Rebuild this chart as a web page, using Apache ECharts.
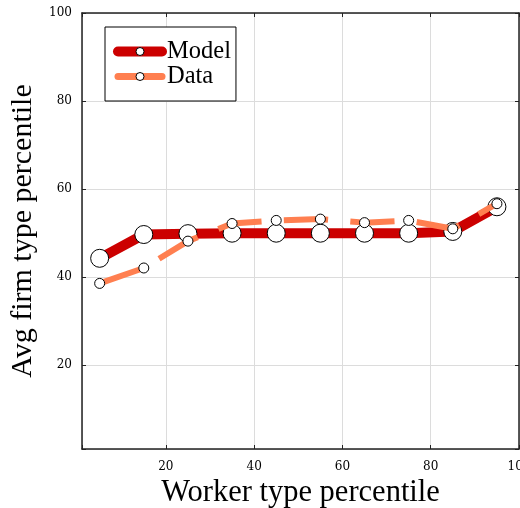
<!DOCTYPE html>
<html>
<head>
<meta charset="utf-8">
<script src="https://cdn.jsdelivr.net/npm/echarts@6/dist/echarts.min.js"></script>
<style>html,body{margin:0;padding:0;background:#fff}#c{width:520px;height:508px}</style>
</head>
<body>
<div id="c"></div>
<script>
const workerPct = [5, 15, 25, 35, 45, 55, 65, 75, 85, 95];
const modelVals = [44.3, 49.7, 49.9, 50.0, 50.0, 50.0, 50.0, 50.0, 50.4, 56.0];
const dataVals  = [38.6, 42.1, 48.2, 52.2, 52.9, 53.2, 52.4, 52.9, 51.0, 56.7];
const xTicks = [20, 40, 60, 80, 100];
const yTicks = [20, 40, 60, 80, 100];

const serif = 'Liberation Serif';
const tickFont = 'DejaVu Serif';
const axisColor = '#222';

const chart = echarts.init(document.getElementById('c'), null, {renderer: 'canvas'});
const pair = (xs, ys) => xs.map((x, i) => [x, ys[i]]);

chart.setOption({
  animation: false,
  backgroundColor: '#fff',
  grid: {left: 82, right: 1, top: 13, bottom: 59, containLabel: false, outerBoundsMode: 'none'},
  legend: {
    left: 105, top: 27, orient: 'vertical',
    backgroundColor: '#fff', borderColor: '#000', borderWidth: 1, borderRadius: 0,
    padding: [12, 5, 12, 8],
    itemWidth: 44, itemHeight: 10, itemGap: 0, itemTextGap: 8,
    textStyle: {fontFamily: serif, fontSize: 24.5, color: '#000'},
    data: [
      {name: 'Model', lineStyle: {width: 10, type: 'solid', cap: 'round'}, itemStyle: {color: '#fff', borderColor: '#000', borderWidth: 1}},
      {name: 'Data', lineStyle: {width: 7, type: 'solid', cap: 'round'}, itemStyle: {color: '#fff', borderColor: '#000', borderWidth: 1}}
    ]
  },
  xAxis: [{
    type: 'value', min: 1, max: 100, position: 'bottom',
    name: 'Worker type percentile', nameLocation: 'middle', nameGap: 28,
    nameTextStyle: {fontFamily: serif, fontSize: 30.5, color: '#000'},
    axisLine: {show: true, onZero: false, lineStyle: {color: axisColor, width: 1.5}},
    axisTick: {show: true, inside: true, length: 4, lineStyle: {color: axisColor}},
    axisLabel: {show: true, customValues: xTicks, margin: 12, fontFamily: tickFont, fontSize: 12, color: '#000'},
    splitLine: {show: true, lineStyle: {color: '#dcdcdc', width: 1}}
  }, {
    type: 'value', min: 1, max: 100, position: 'top',
    axisLine: {show: true, onZero: false, lineStyle: {color: axisColor, width: 1.5}},
    axisTick: {show: true, inside: true, length: 4, lineStyle: {color: axisColor}},
    axisLabel: {show: false},
    splitLine: {show: false}
  }],
  yAxis: [{
    type: 'value', min: 1, max: 100, position: 'left',
    name: 'Avg firm type percentile', nameLocation: 'middle', nameGap: 40,
    nameTextStyle: {fontFamily: serif, fontSize: 30, color: '#000'},
    axisLine: {show: true, onZero: false, lineStyle: {color: axisColor, width: 1.5}},
    axisTick: {show: true, inside: true, length: 4, lineStyle: {color: axisColor}},
    axisLabel: {show: true, customValues: yTicks, margin: 10, fontFamily: tickFont, fontSize: 12, color: '#000'},
    splitLine: {show: true, lineStyle: {color: '#dcdcdc', width: 1}}
  }, {
    type: 'value', min: 1, max: 100, position: 'right',
    axisLine: {show: true, onZero: false, lineStyle: {color: axisColor, width: 1.5}},
    axisTick: {show: true, inside: true, length: 4, lineStyle: {color: axisColor}},
    axisLabel: {show: false},
    splitLine: {show: false}
  }],
  series: [{
    name: 'Model', type: 'line', xAxisIndex: 0, yAxisIndex: 0,
    data: pair(workerPct, modelVals),
    lineStyle: {color: '#cc0000', width: 10},
    itemStyle: {color: '#fff', borderColor: '#000', borderWidth: 1},
    color: '#cc0000',
    symbol: 'circle', symbolSize: 18, z: 2
  }, {
    name: 'Data', type: 'line', xAxisIndex: 0, yAxisIndex: 0,
    data: pair(workerPct, dataVals),
    lineStyle: {color: '#ff7f50', width: 6, type: [44.3, 22.3], dashOffset: 2, cap: 'butt'},
    itemStyle: {color: '#fff', borderColor: '#000', borderWidth: 1},
    color: '#ff7f50',
    symbol: 'circle', symbolSize: 10, z: 3
  }]
});
</script>
</body>
</html>
